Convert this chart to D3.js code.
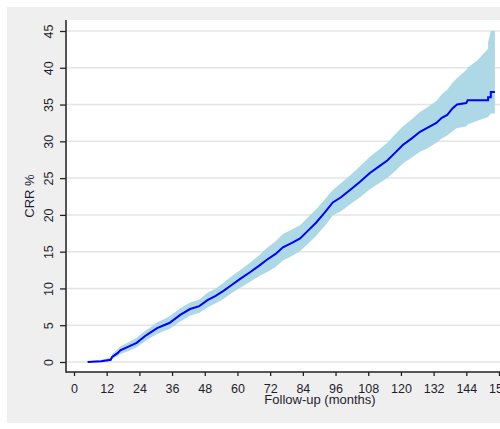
<!DOCTYPE html>
<html>
<head>
<meta charset="utf-8">
<script src="https://cdn.jsdelivr.net/npm/d3@7"></script>
<style>
  body { margin: 0; background: #fff; }
  text { font-family: "Liberation Sans", Arial, sans-serif; fill: #1e1e2e; }
</style>
</head>
<body>
<script>
var width = 500,
  height = 429;

// follow-up months, cumulative rate % and its confidence band
var months = [5, 10, 13.5, 14, 16, 17, 20, 23, 26, 28, 30.5, 33, 35, 39, 42.6, 46, 49, 52, 55, 58,
  61, 64.6, 68, 70.8, 74, 76.7, 80, 83, 86, 89, 92, 95, 98, 102, 105, 108.6, 112, 115, 118, 120.7,
  124, 127, 130, 133, 135, 137, 139, 140.6, 144, 144.5, 148, 152, 152, 153, 153, 154.5];
var crr = [0, 0.1, 0.3, 0.7, 1.2, 1.6, 2.1, 2.6, 3.5, 4.0, 4.6, 5.0, 5.3, 6.4, 7.2, 7.6, 8.4, 9.0, 9.7, 10.5,
  11.3, 12.2, 13.1, 13.9, 14.7, 15.6, 16.2, 16.8, 17.9, 19.0, 20.3, 21.7, 22.4, 23.6, 24.5, 25.7, 26.6, 27.4, 28.5, 29.5,
  30.4, 31.3, 31.9, 32.5, 33.2, 33.6, 34.5, 35.0, 35.2, 35.6, 35.6, 35.6, 36.0, 36.0, 36.7, 36.7];
var lower = [0, 0, 0.1, 0.4, 0.8, 1.1, 1.5, 2.0, 2.8, 3.3, 3.8, 4.2, 4.5, 5.5, 6.3, 6.7, 7.4, 8.0, 8.6, 9.4,
  10.1, 10.9, 11.7, 12.2, 12.9, 13.8, 14.4, 15.1, 16.1, 17.2, 18.5, 19.9, 20.5, 21.6, 22.4, 23.5, 24.3, 25.0, 26.0, 27.0,
  27.8, 28.6, 29.1, 29.8, 30.4, 30.8, 31.4, 31.8, 32.0, 32.3, 32.8, 33.3, 33.3, 33.8, 33.8, 33.8];
var upper = [0.1, 0.3, 0.6, 1.1, 1.7, 2.1, 2.7, 3.3, 4.2, 4.7, 5.4, 5.8, 6.2, 7.3, 8.1, 8.5, 9.4, 10.0, 10.8, 11.7,
  12.5, 13.5, 14.5, 15.5, 16.4, 17.4, 18.0, 18.6, 19.7, 20.8, 22.1, 23.4, 24.3, 25.6, 26.6, 27.9, 28.9, 29.8, 31.0, 32.0,
  33.0, 34.0, 34.7, 35.5, 36.4, 37.0, 38.0, 38.6, 39.7, 40.0, 41.0, 42.6, 43.5, 45.0, 45.0, 45.0];
var xTicks = d3.range(0, 157, 12);
var yTicks = d3.range(0, 46, 5);

var data = months.map((m, i) => ({m: m, v: crr[i], lo: lower[i], hi: upper[i]}));

var svg = d3.select("body").append("svg")
  .attr("width", width)
  .attr("height", height);

// outer grey panel and white plot region
svg.append("rect").attr("x", 7).attr("y", 7).attr("width", width - 7).attr("height", 416)
  .attr("fill", "#efefef");
svg.append("rect").attr("x", 67).attr("y", 20).attr("width", width - 67).attr("height", 352)
  .attr("fill", "#ffffff");

var x = d3.scaleLinear().domain([0, 156]).range([74, 499]);
var y = d3.scaleLinear().domain([0, 45]).range([362, 31]);

// gridlines
svg.append("g").selectAll("line")
  .data(yTicks)
  .enter()
  .append("line")
  .attr("x1", 67).attr("x2", width)
  .attr("y1", (d) => y(d)).attr("y2", (d) => y(d))
  .attr("stroke", "#e4e4e4")
  .attr("stroke-width", 1.5);

// confidence band
svg.append("path")
  .datum(data)
  .attr("d", d3.area()
    .x((d) => x(d.m))
    .y0((d) => y(d.lo))
    .y1((d) => y(d.hi)))
  .attr("fill", "#add8e6");

// estimate
svg.append("path")
  .datum(data)
  .attr("d", d3.line()
    .x((d) => x(d.m))
    .y((d) => y(d.v)))
  .attr("fill", "none")
  .attr("stroke", "#0000ff")
  .attr("stroke-width", 2);

// x axis
var xa = svg.append("g")
  .attr("transform", "translate(0,372)")
  .call(d3.axisBottom(x).tickValues(xTicks).tickSize(4).tickPadding(8));
xa.select(".domain").remove();
xa.selectAll(".tick line").attr("stroke", "#222").attr("stroke-width", 1.3);
xa.selectAll(".tick text").style("font-size", "12.5px").attr("fill", "#1e1e2e")
  .style("font-family", "Liberation Sans, Arial, sans-serif");

// y axis
var ya = svg.append("g")
  .attr("transform", "translate(66,0)")
  .call(d3.axisLeft(y).tickValues(yTicks).tickSize(6));
ya.select(".domain").remove();
ya.selectAll(".tick line").attr("stroke", "#222").attr("stroke-width", 1.3);
ya.selectAll(".tick text")
  .attr("transform", "rotate(-90)")
  .attr("x", 0)
  .attr("y", -13.5)
  .attr("dy", null)
  .attr("text-anchor", "middle")
  .style("font-size", "12.5px")
  .attr("fill", "#1e1e2e")
  .style("font-family", "Liberation Sans, Arial, sans-serif");

// axis lines
svg.append("line").attr("x1", 66).attr("x2", width).attr("y1", 372).attr("y2", 372)
  .attr("stroke", "#222").attr("stroke-width", 1.5);
svg.append("line").attr("x1", 66).attr("x2", 66).attr("y1", 20).attr("y2", 372.75)
  .attr("stroke", "#222").attr("stroke-width", 1.5);

// titles
svg.append("text")
  .attr("transform", "translate(29,196) rotate(-90)")
  .attr("text-anchor", "middle")
  .attr("dy", "0.35em")
  .style("font-size", "13px")
  .text("CRR %");

svg.append("text")
  .attr("x", 320)
  .attr("y", 404)
  .attr("text-anchor", "middle")
  .style("font-size", "13px")
  .text("Follow-up (months)");
</script>
</body>
</html>
